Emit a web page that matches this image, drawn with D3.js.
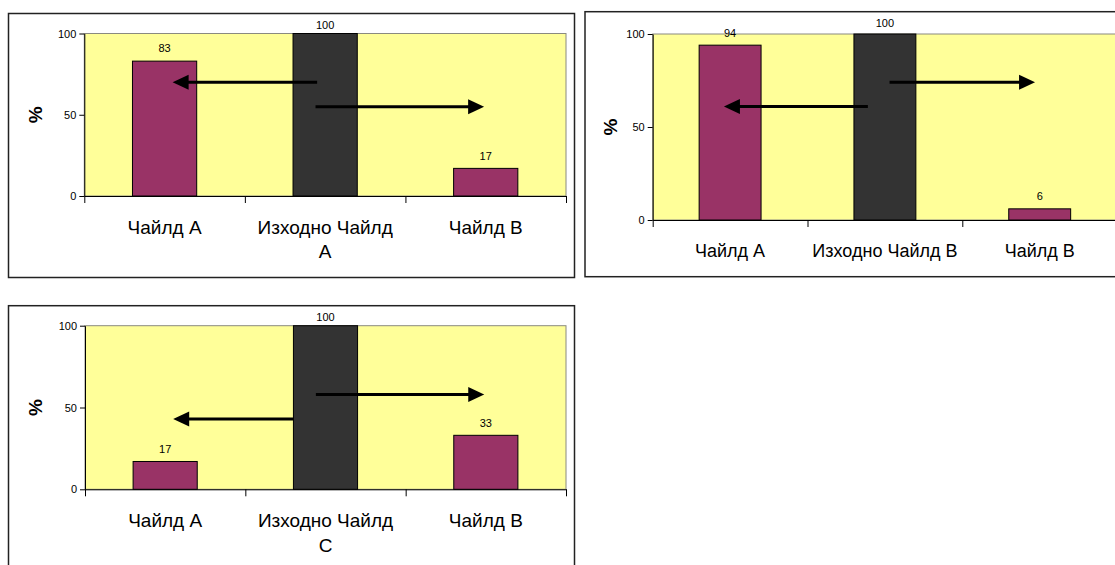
<!DOCTYPE html>
<html>
<head>
<meta charset="utf-8">
<script src="https://cdn.jsdelivr.net/npm/d3@7"></script>
<style>
  html, body { margin: 0; padding: 0; background: #ffffff; }
  svg { display: block; }
  text { font-family: "Liberation Sans", Arial, sans-serif; fill: #000; }
</style>
</head>
<body>
<svg id="chart" width="1115" height="565"></svg>
<script>
// Share of transitions from each starting state (%)
const categoriesA = ["Чайлд А", "Изходно Чайлд\nА", "Чайлд В"];
const valuesA = [83, 100, 17];

const categoriesB = ["Чайлд А", "Изходно Чайлд В", "Чайлд В"];
const valuesB = [94, 100, 6];

const categoriesC = ["Чайлд А", "Изходно Чайлд\nС", "Чайлд В"];
const valuesC = [17, 100, 33];

const yTicks = [0, 50, 100];
const yLabel = "%";
const sourceIndex = 1; // the middle bar is the starting state

// Arrow annotations: from one category to another, at a given % level
const arrowsA = [
  { from: 1, fromShift: -0.05, to: 0, toShift: 0.05, level: 70 },
  { from: 1, fromShift: -0.06, to: 2, toShift: -0.01, level: 55 }
];
const arrowsB = [
  { from: 1, fromShift: -0.11, to: 0, toShift: -0.04, level: 61 },
  { from: 1, fromShift: 0.03, to: 2, toShift: -0.03, level: 74 }
];
const arrowsC = [
  { from: 1, fromShift: -0.2, to: 0, toShift: 0.05, level: 43 },
  { from: 1, fromShift: -0.06, to: 2, toShift: -0.01, level: 58 }
];

// Panel layout
const panels = [
  { cats: categoriesA, vals: valuesA, arrows: arrowsA,
    frame: { x: 8.5, y: 13.5, w: 566, h: 264 },
    plot: { x: 84.3, y: 33.5, w: 481.7, h: 162.5 }, catFont: 19, pctX: 35.5 },
  { cats: categoriesB, vals: valuesB, arrows: arrowsB,
    frame: { x: 585, y: 11.7, w: 560, h: 265 },
    plot: { x: 652.7, y: 34, w: 464.4, h: 186 }, catFont: 18, pctX: 610 },
  { cats: categoriesC, vals: valuesC, arrows: arrowsC,
    frame: { x: 8.5, y: 305.7, w: 566, h: 290 },
    plot: { x: 85, y: 325.7, w: 481, h: 163.6 }, catFont: 19, pctX: 35 }
];

const svg = d3.select("#chart");
const COLOR_BG = "#FFFF99";
const COLOR_BAR = "#993366";
const COLOR_SRC = "#333333";

panels.forEach(p => {
  const g = svg.append("g");

  // outer chart frame
  g.append("rect")
    .attr("x", p.frame.x).attr("y", p.frame.y)
    .attr("width", p.frame.w).attr("height", p.frame.h)
    .attr("fill", "#fff").attr("stroke", "#222").attr("stroke-width", 1.5);

  const x = d3.scaleBand()
    .domain(d3.range(p.cats.length))
    .range([p.plot.x, p.plot.x + p.plot.w])
    .paddingInner(0.6).paddingOuter(0.3);
  const xEdge = d3.scaleLinear()
    .domain([0, p.cats.length])
    .range([p.plot.x, p.plot.x + p.plot.w]);
  const y = d3.scaleLinear()
    .domain([0, 100])
    .range([p.plot.y + p.plot.h, p.plot.y]);

  // plot area
  g.append("rect")
    .attr("x", p.plot.x).attr("y", p.plot.y)
    .attr("width", p.plot.w).attr("height", p.plot.h)
    .attr("fill", COLOR_BG).attr("stroke", "#8a8a80").attr("stroke-width", 1);

  // bars
  g.selectAll("rect.bar")
    .data(p.vals)
    .join("rect")
    .attr("class", "bar")
    .attr("x", (d, i) => x(i))
    .attr("width", x.bandwidth())
    .attr("y", d => y(d))
    .attr("height", d => y(0) - y(d))
    .attr("fill", (d, i) => i === sourceIndex ? COLOR_SRC : COLOR_BAR)
    .attr("stroke", "#000").attr("stroke-width", 1);

  // value labels
  g.selectAll("text.val")
    .data(p.vals)
    .join("text")
    .attr("class", "val")
    .attr("x", (d, i) => x(i) + x.bandwidth() / 2)
    .attr("y", d => Math.max(y(d) - 12.5, p.frame.y + 11.5))
    .attr("dy", "0.35em")
    .attr("text-anchor", "middle")
    .attr("font-size", 11)
    .text(d => d);

  // y axis
  const yAxis = g.append("g")
    .attr("transform", `translate(${p.plot.x},0)`)
    .call(d3.axisLeft(y).tickValues(yTicks).tickSizeInner(5).tickSizeOuter(0).tickPadding(3));
  yAxis.selectAll("text").attr("font-size", 11).attr("font-family", "Liberation Sans, Arial, sans-serif").attr("fill", "#000");
  yAxis.selectAll("line,path").attr("stroke", "#000");

  // x axis: ticks on category boundaries
  const xAxis = g.append("g")
    .attr("transform", `translate(0,${y(0)})`)
    .call(d3.axisBottom(xEdge).tickValues(d3.range(p.cats.length + 1)).tickSizeInner(7).tickSizeOuter(0).tickFormat(""));
  xAxis.selectAll("line,path").attr("stroke", "#000");

  // category labels (may span two lines)
  const cat = g.selectAll("text.cat")
    .data(p.cats)
    .join("text")
    .attr("class", "cat")
    .attr("text-anchor", "middle")
    .attr("font-size", p.catFont)
    .attr("x", (d, i) => x(i) + x.bandwidth() / 2)
    .attr("y", y(0) + 31)
    .attr("dy", "0.35em");
  cat.each(function(d, i) {
    const lines = d.split("\n");
    const t = d3.select(this);
    lines.forEach((ln, k) => {
      t.append("tspan")
        .attr("x", x(i) + x.bandwidth() / 2)
        .attr("dy", k === 0 ? "0.35em" : "1.3em")
        .text(ln);
    });
  });

  // y axis title
  g.append("text")
    .attr("transform", `translate(${p.pctX},${p.plot.y + p.plot.h / 2}) rotate(-90)`)
    .attr("text-anchor", "middle")
    .attr("dy", "0.35em")
    .attr("font-size", 19)
    .attr("font-weight", "bold")
    .text(yLabel);

  // arrows
  const headLen = 16, headHalf = 7.5;
  p.arrows.forEach(a => {
    const step = x.step();
    const x0 = x(a.from) + x.bandwidth() / 2 + a.fromShift * step;
    const x1 = x(a.to) + x.bandwidth() / 2 + a.toShift * step;
    const yy = y(a.level);
    const dir = Math.sign(x1 - x0);
    g.append("line")
      .attr("x1", x0).attr("y1", yy)
      .attr("x2", x1 - dir * (headLen - 2)).attr("y2", yy)
      .attr("stroke", "#000").attr("stroke-width", 3);
    g.append("path")
      .attr("d", d3.line()([[x1, yy], [x1 - dir * headLen, yy - headHalf], [x1 - dir * headLen, yy + headHalf]]) + "Z")
      .attr("fill", "#000");
  });
});
</script>
</body>
</html>
